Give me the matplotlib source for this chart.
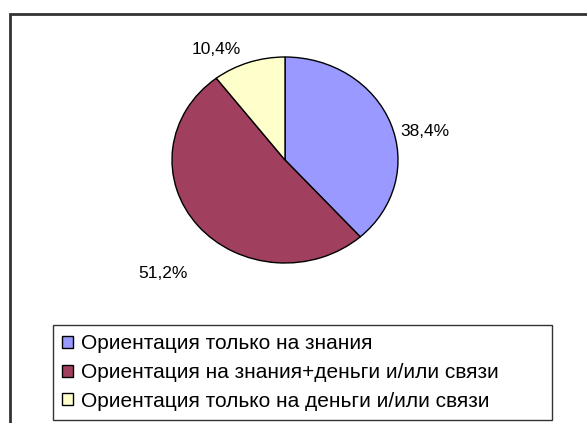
import matplotlib.pyplot as plt
from matplotlib.patches import Rectangle

# Данные
labels = ["Ориентация только на знания",
          "Ориентация на знания+деньги и/или связи",
          "Ориентация только на деньги и/или связи"]
values = [38.4, 51.2, 10.4]
pct_labels = ["38,4%", "51,2%", "10,4%"]
colors = ["#9999FF", "#A0405E", "#FFFFCC"]

plt.rcParams["font.family"] = ["Liberation Sans", "DejaVu Sans"]

fig = plt.figure(figsize=(5.87, 4.23), dpi=100)
W, H = 587, 423

# Рамка вокруг диаграммы (уходит за правый и нижний край)
fig.patches.append(Rectangle((10 / W, -0.05), 1.1, (H - 14) / H + 0.05,
                             transform=fig.transFigure, fill=False,
                             edgecolor="#333333", linewidth=2))

# Круговая диаграмма (слегка вытянута по горизонтали, как в оригинале)
ax = fig.add_axes([172 / W, (H - 263) / H, 226 / W, 206 / H])
wedges, _ = ax.pie(values, colors=colors, startangle=90, counterclock=False,
                   wedgeprops=dict(edgecolor="black", linewidth=1))
ax.set_aspect("auto")
ax.set_xlim(-1, 1)
ax.set_ylim(-1, 1)

# Подписи долей
label_pos = [(1.24, 0.28), (-1.08, -1.10), (-0.61, 1.07)]
for txt, (x, y) in zip(pct_labels, label_pos):
    ax.text(x, y, txt, ha="center", va="center", fontsize=12.5, clip_on=False)

# Легенда
leg = fig.legend(wedges, labels, loc="upper left",
                 bbox_to_anchor=(53 / W, (H - 420) / H, (552 - 53) / W, 95 / H),
                 mode="expand", fontsize=15, frameon=True, fancybox=False,
                 handlelength=0.5, handleheight=0.5, handletextpad=0.4,
                 labelspacing=0.46, borderpad=0.45, borderaxespad=0)
leg.get_frame().set_edgecolor("black")
leg.get_frame().set_linewidth(1)

plt.savefig("out.png", dpi=100)
